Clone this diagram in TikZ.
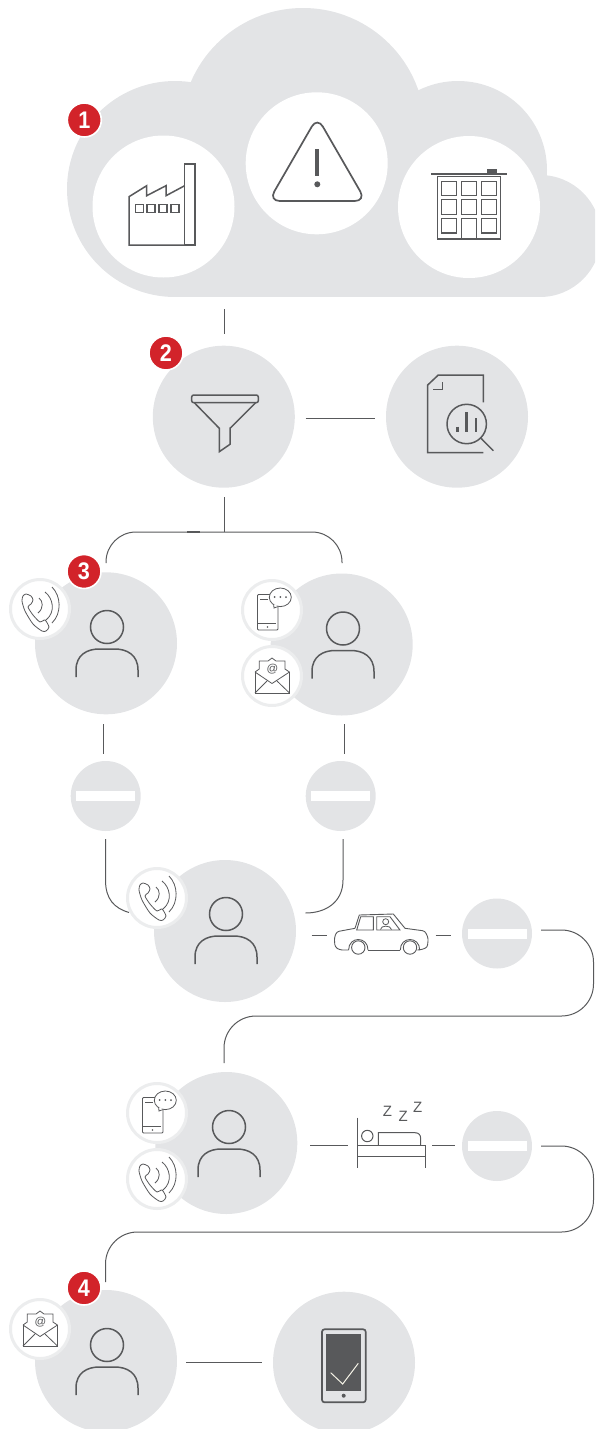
\documentclass[tikz,border=0pt]{standalone}
\usepackage{fontspec}
\setmainfont{Liberation Sans}
\newfontfamily\badgefont[FakeStretch=0.9]{Liberation Sans}
\definecolor{cloudgrey}{HTML}{E3E4E6}
\definecolor{inkgrey}{HTML}{58595B}
\definecolor{ringgrey}{HTML}{ECEDEE}
\definecolor{badgered}{HTML}{D2232A}
\definecolor{cream}{HTML}{F4F2E6}
\tikzset{
  bigdisc/.style={circle,fill=cloudgrey,draw=none,minimum size=142pt,inner sep=0pt,outer sep=0pt},
  whitedisc/.style={circle,fill=white,draw=none,minimum size=142pt,inner sep=0pt,outer sep=0pt},
  stopdisc/.style={circle,fill=cloudgrey,draw=none,minimum size=70pt,inner sep=0pt,outer sep=0pt},
  smalldisc/.style={circle,fill=white,draw=ringgrey,line width=3pt,minimum size=59pt,inner sep=0pt,outer sep=0pt},
  badgedisc/.style={circle,fill=badgered,draw=white,line width=1.6pt,minimum size=34pt,inner sep=0pt,outer sep=0pt,
    text=white,font=\badgefont\fontsize{24}{24}\selectfont\bfseries},
  conn/.style={draw=inkgrey,line width=1pt},
  icon/.style={draw=inkgrey,line width=1.5pt},
  thin icon/.style={draw=inkgrey,line width=0.8pt},
  bar stop/.style={fill=white,draw=none},
  zzz/.style={inner sep=0pt,text=inkgrey,font=\fontsize{15}{15}\selectfont},
  pics/person/.style={code={
    \draw[icon] (0,-16) circle[radius=16.5pt];
    \draw[icon] (-31,34) -- (-31,27) .. controls (-31,12) and (-20,6) .. (-8,6) -- (8,6) .. controls (20,6) and (31,12) .. (31,27) -- (31,34);
  }},
  pics/handset/.style={code={
    \draw[thin icon] plot[smooth cycle,tension=0.45] coordinates {(-14,-15) (-9,-13) (-7,-9) (-9,-5) (-12,-2) (-7,6) (0,13) (5,11) (9,18) (6,22) (2,22) (-7,15) (-15,2) (-18,-8) (-17,-13)};
    \draw[thin icon] (-1,-11) .. controls (3,-8) and (4,-1) .. (-2,4);
    \draw[thin icon] (5,-17) .. controls (13,-11) and (16,3) .. (6,11);
    \draw[thin icon] (12,-22) .. controls (21,-13) and (22,4) .. (12,14);
  }},
  pics/mobile/.style={code={
    \draw[thin icon,rounded corners=1pt] (-14.5,-15.5) rectangle (6,20);
    \draw[thin icon] (-12,-11) -- (-4,-11);
    \draw[icon,line width=1.6pt] (-14,13.5) -- (4,13.5);
    \fill[inkgrey] (-4.5,17) circle[radius=0.9pt];
    \filldraw[thin icon,fill=white] (8.3,-12.7) ellipse[x radius=11pt,y radius=9.3pt];
    \filldraw[thin icon,fill=white] (1.6,-6) -- (2,-2) -- (6.5,-3.6);
    \fill[inkgrey] (2.6,-13) circle[radius=1pt] (8.3,-13) circle[radius=1pt] (14,-13) circle[radius=1pt];
  }},
  pics/envelope/.style={code={
    \draw[thin icon] (-17,-4) -- (-17,17) -- (17.5,17) -- (17.5,-4);
    \draw[thin icon] (-17,-4) -- (0,7.5) -- (17.5,-4);
    \draw[thin icon] (-17,17) -- (-5,5);
    \draw[thin icon] (17.5,17) -- (5,5);
    \draw[thin icon] (-17,-4) -- (-12.7,-7) -- (-12.7,-15) -- (-4,-15) -- (0,-18) -- (4,-15) -- (12.9,-15) -- (12.9,-7) -- (17.5,-4);
    \node[inner sep=0pt,text=inkgrey,font=\fontsize{11.5}{11.5}\selectfont] at (0.5,-6.5) {@};
  }},
}
\begin{document}
\begin{tikzpicture}[x=1pt,y=-1pt]
\useasboundingbox (0,0) rectangle (595,1429);
\clip (0,0) rectangle (595,1429);

% cloud
\fill[cloudgrey] (175,189) circle[radius=108pt];
\fill[cloudgrey] (303,130) circle[radius=122pt];
\fill[cloudgrey] (458,170) circle[radius=89pt];
\fill[cloudgrey] (540,236) circle[radius=61pt];
\fill[cloudgrey] (175,150) rectangle (540,297);
\node[whitedisc] (factorydisc) at (163.5,206.5) {};
\node[whitedisc] (warndisc) at (316.7,163.3) {};
\node[whitedisc] (buildingdisc) at (469,207) {};

% factory
\draw[icon,line join=miter] (184.7,245) -- (129,245) -- (129,196.7) -- (146.7,185.7) -- (146.7,195.7) -- (166,185.7) -- (166,195.7) -- (184.7,185.7);
\draw[icon] (184.7,164) rectangle (195,245);
\foreach \wx in {135.3,147,159,171}
  \draw[icon] (\wx,204.3) rectangle ++(8.2,8);

% warning
\draw[icon,line width=1.7pt,rounded corners=11pt] (317.3,117) -- (365.8,201) -- (268.8,201) -- cycle;
\fill[inkgrey] (315.3,149) rectangle (319.3,176);
\fill[inkgrey] (317.3,184.3) circle[radius=3pt];

% building
\draw[icon,line width=2pt] (431,174) -- (506.7,174);
\fill[inkgrey] (487,169) rectangle (497,174);
\draw[icon,line width=1.5pt] (437.3,176.7) rectangle (500.3,239);
\foreach \wx in {441.3,461.3,481.3}{
  \foreach \wy in {181.3,199.7}
    \draw[icon,line width=1.3pt] (\wx,\wy) rectangle ++(15,14.5);
}
\draw[icon,line width=1.3pt] (441.3,218.3) rectangle ++(15,14.7);
\draw[icon,line width=1.3pt] (481.3,218.3) rectangle ++(15,14.7);
\draw[icon,line width=1.3pt] (461.3,239) -- (461.3,218.3) -- (476.3,218.3) -- (476.3,239);

% named ends of connectors
\coordinate (cloudout) at (224,309);
\coordinate (filterin) at (224,334);
\coordinate (filterright) at (305.5,418);
\coordinate (reportleft) at (374.5,418);
\coordinate (filterout) at (224,497);
\coordinate (forkL) at (106,563);
\coordinate (forkT) at (224,532);
\coordinate (forkR) at (342,563);
\coordinate (markA) at (187,532);
\coordinate (markB) at (200,532);
\coordinate (p1out) at (103,724);
\coordinate (s1in) at (103,754);
\coordinate (p2out) at (344,724);
\coordinate (s2in) at (344,754);
\coordinate (s1out) at (105.5,839);
\coordinate (s1bend) at (105.5,880);
\coordinate (p3inL) at (129,912.5);
\coordinate (s2out) at (343,839);
\coordinate (s2bend) at (343,880);
\coordinate (p3inR) at (305.5,913);
\coordinate (p3out) at (311.5,935.5);
\coordinate (carin) at (326.5,935.5);
\coordinate (carout) at (435.5,935.5);
\coordinate (s3in) at (450.5,935.5);
\coordinate (s3out) at (541,930);
\coordinate (loop1a) at (593.5,930);
\coordinate (loop1b) at (593.5,1016);
\coordinate (loop1c) at (224,1016);
\coordinate (p4in) at (224,1063);
\coordinate (p4out) at (310,1145);
\coordinate (bedin) at (347.5,1145);
\coordinate (bedout) at (432,1145);
\coordinate (s4in) at (454.5,1145);
\coordinate (s4out) at (541,1146);
\coordinate (loop2a) at (593.5,1146);
\coordinate (loop2b) at (593.5,1232);
\coordinate (loop2c) at (105.5,1232);
\coordinate (p5in) at (105.5,1282);
\coordinate (p5out) at (186,1362);
\coordinate (tabletin) at (262,1362);

% connectors
\draw[conn] (cloudout) -- (filterin);
\draw[conn] (filterright) -- (reportleft);
\draw[conn] (filterout) -- (forkT);
\draw[conn,rounded corners=30pt] (forkL) |- (forkT) -| (forkR);
\draw[conn,line width=1.3pt] (markA) -- (markB);
\draw[conn] (p1out) -- (s1in);
\draw[conn] (p2out) -- (s2in);
\draw[conn] (s1out) -- (s1bend) .. controls (105.5,899) and (114,908) .. (p3inL);
\draw[conn] (s2out) -- (s2bend) .. controls (343,902) and (326,913) .. (p3inR);
\draw[conn,line width=1.2pt] (p3out) -- (carin);
\draw[conn,line width=1.2pt] (carout) -- (s3in);
\draw[conn,rounded corners=32pt] (s3out) -- (loop1a) -- (loop1b) -- (loop1c) -- (p4in);
\draw[conn] (p4out) -- (bedin);
\draw[conn] (bedout) -- (s4in);
\draw[conn,rounded corners=32pt] (s4out) -- (loop2a) -- (loop2b) -- (loop2c) -- (p5in);
\draw[conn] (p5out) -- (tabletin);

% discs
\node[bigdisc] (filterdisc) at (223.8,416.7) {};
\node[bigdisc] (reportdisc) at (457,416.7) {};
\node[bigdisc] (p1) at (106,643.3) {};
\node[bigdisc] (p2) at (341.7,644.5) {};
\node[bigdisc] (p3) at (225,931) {};
\node[bigdisc] (p4) at (226.3,1143) {};
\node[bigdisc] (p5) at (106,1361) {};
\node[bigdisc] (tabletdisc) at (344,1362.7) {};
\node[stopdisc] (s1) at (105.7,796) {};
\node[stopdisc] (s2) at (340.7,796) {};
\node[stopdisc] (s3) at (497,933.5) {};
\node[stopdisc] (s4) at (497,1146) {};
\fill[bar stop] (76,790.7) rectangle (135.3,800.7);
\fill[bar stop] (311,790.7) rectangle (370.3,800.7);
\fill[bar stop] (467.5,928.7) rectangle (527,938.7);
\fill[bar stop] (467.5,1141) rectangle (527,1151);

% funnel
\draw[icon,rounded corners=2pt] (191.7,395) rectangle (258.3,402.7);
\draw[icon,line join=miter] (194.3,402.7) -- (219.3,428.3) -- (219.3,451.7) -- (230,444.3) -- (230,428.3) -- (255.7,402.7);

% report
\draw[icon] (483.3,402.3) -- (483.3,375) -- (438.3,375) -- (427.7,385) -- (427.7,452.7) -- (483.3,452.7);
\draw[icon] (433.3,389.3) -- (442.7,389.3) -- (442.7,381.7);
\draw[icon] (466.7,424) circle[radius=19.7pt];
\draw[icon] (481.2,438.5) -- (493.3,450.7);
\draw[icon,line width=2.5pt] (457.3,426.7) -- (457.3,432.3);
\draw[icon,line width=2.5pt] (466.7,412.3) -- (466.7,432.3);
\draw[icon,line width=2.5pt] (476,418.3) -- (476,432.3);

% car
\draw[thin icon,line width=0.9pt,rounded corners=2.5pt] (348.6,950) -- (340,950) -- (335,947) -- (334.3,938) -- (336.7,931.7) -- (355,928.3);
\draw[thin icon,line width=0.9pt] (355,928.3) -- (359.3,915) -- (393.3,914) -- (405,928.3);
\draw[thin icon,line width=0.9pt,rounded corners=2.5pt] (405,928.3) -- (425,931) -- (428.3,938.3) -- (427.3,947.5) -- (420,950) -- (419.7,950);
\draw[thin icon,line width=0.9pt] (368,950) -- (400.3,950);
\draw[thin icon,line width=0.9pt] (348.6,950) .. controls (348.6,936) and (368,936) .. (368,950);
\draw[thin icon,line width=0.9pt] (400.3,950) .. controls (400.3,936) and (419.7,936) .. (419.7,950);
\draw[thin icon,line width=0.9pt] (358.3,947.5) circle[radius=6.7pt];
\draw[thin icon,line width=0.9pt] (410,947.5) circle[radius=6.7pt];
\draw[thin icon,line width=0.9pt] (356.7,930) -- (360.7,916.7) -- (373.3,916.7) -- (373.3,930) -- cycle;
\draw[thin icon,line width=0.9pt] (376.7,916.7) -- (390,916.7) -- (400,930) -- (376.7,930) -- cycle;
\draw[thin icon] (385.7,921.7) circle[radius=3pt];
\draw[thin icon] (380.5,929.5) .. controls (380.5,925) and (391,925) .. (391.5,929.5);

% bed
\draw[icon,line width=1pt] (357.3,1117.7) -- (357.3,1167.7);
\draw[icon,line width=1pt] (425.7,1145) -- (425.7,1167.7);
\draw[icon,line width=1pt] (357.3,1145) -- (425.7,1145);
\draw[icon,line width=1pt] (357.3,1156) -- (425.7,1156);
\draw[icon,line width=1pt] (367.3,1136) circle[radius=5.7pt];
\draw[icon,line width=1pt] (378.3,1145) -- (378.3,1132.7) -- (415,1132.7) .. controls (419,1132.7) and (420.7,1135) .. (420.7,1139) -- (420.7,1145);
\node[zzz] (z1) at (387.5,1111.7) {Z};
\node[zzz] (z2) at (403.3,1116.7) {Z};
\node[zzz] (z3) at (417.7,1107.7) {Z};

% tablet
\draw[icon,line width=1.7pt,rounded corners=2.5pt] (322,1329.3) rectangle (365.7,1402.3);
\fill[inkgrey] (326,1334) rectangle (361.3,1390.7);
\draw[cream,line width=1pt] (330.7,1372.7) -- (342.7,1384) -- (358.3,1363.3);
\fill[inkgrey] (343.7,1395.7) circle[radius=2pt];

% persons
\pic at (107,643) {person};
\pic at (343,644.5) {person};
\pic at (226,930) {person};
\pic at (229,1143) {person};
\pic at (107,1361) {person};

% small icon discs
\node[smalldisc] (call1) at (40,609) {};
\pic at (40,609) {handset};
\node[smalldisc] (sms1) at (272,610) {};
\pic at (272,610) {mobile};
\node[smalldisc] (mail1) at (272,676) {};
\pic at (272,676) {envelope};
\node[smalldisc] (call2) at (157,898) {};
\pic at (157,898) {handset};
\node[smalldisc] (sms2) at (157,1113) {};
\pic at (157,1113) {mobile};
\node[smalldisc] (call3) at (157,1179) {};
\pic at (157,1179) {handset};
\node[smalldisc] (mail2) at (40,1329) {};
\pic at (40,1329) {envelope};

% badges
\node[badgedisc] (b1) at (84.3,120) {1};
\node[badgedisc] (b2) at (166,353) {2};
\node[badgedisc] (b3) at (84,571.5) {3};
\node[badgedisc] (b4) at (84,1288) {4};
\end{tikzpicture}
\end{document}
